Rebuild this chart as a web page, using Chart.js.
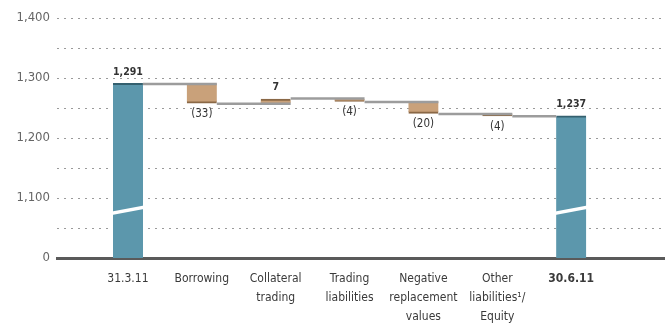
<!DOCTYPE html>
<html>
<head>
<meta charset="utf-8">
<script src="https://cdn.jsdelivr.net/npm/chart.js@4/dist/chart.umd.min.js"></script>
<style>
  html, body { margin: 0; padding: 0; background: #ffffff; }
  #wrap { width: 665px; height: 325px; position: relative; }
</style>
</head>
<body>
<div id="wrap"><canvas id="chart"></canvas></div>
<script>
// Balance sheet bridge, CHF billion (axis broken between 0 and 1,100)
const categories = [
  ['31.3.11'],
  ['Borrowing'],
  ['Collateral', 'trading'],
  ['Trading', 'liabilities'],
  ['Negative', 'replacement', 'values'],
  ['Other', 'liabilities\u00B9/', 'Equity'],
  ['30.6.11']
];
const changes   = [1291, -33, 7, -4, -20, -4, 1237];
const isTotal   = [true, false, false, false, false, false, true];
const yTicks    = [1000, 1100, 1200, 1300, 1400];
const tickText  = ['0', '1,100', '1,200', '1,300', '1,400'];
const AXIS_BASE = 1000;   // the "0" line sits where 1,000 would be
const BREAK_AT  = 1080;   // level of the axis-break slash on the total bars

// floating ranges for the waterfall
const ranges = [];
let running = 0;
changes.forEach((v, i) => {
  if (isTotal[i]) { ranges.push([AXIS_BASE, v]); running = v; }
  else { const s = running; running += v; ranges.push([Math.min(s, running), Math.max(s, running)]); }
});
const endLevels = [];
running = 0;
changes.forEach((v, i) => { running = isTotal[i] ? v : running + v; endLevels.push(running); });

const TEAL = '#5c97ac';
const TEAL_EDGE = '#34606f';
const TAN  = '#c9a17a';
const TAN_EDGE = '#8a6846';
const FONT = "'DejaVu Sans Condensed', 'DejaVu Sans', sans-serif";

const barData = ranges.map((r, i) => ({ x: i + 1, y: r }));

const waterfallDecor = {
  id: 'waterfallDecor',
  afterDatasetsDraw(chart) {
    const { ctx } = chart;
    const meta = chart.getDatasetMeta(0);
    const ys = chart.scales.y;
    ctx.save();
    // connector lines between consecutive bars
    ctx.strokeStyle = '#9c9c9c';
    ctx.lineWidth = 2.5;
    for (let i = 0; i < meta.data.length - 1; i++) {
      const a = meta.data[i], b = meta.data[i + 1];
      const y = ys.getPixelForValue(endLevels[i]) + (changes[i] < 0 || isTotal[i] ? 0.5 : -0.5);
      const xEnd = isTotal[i + 1] ? b.x - b.width / 2 : b.x + b.width / 2;
      ctx.beginPath();
      ctx.moveTo(a.x + a.width / 2, y);
      ctx.lineTo(xEnd, y);
      ctx.stroke();
    }
    // axis-break slash on total bars
    meta.data.forEach((bar, i) => {
      if (!isTotal[i]) return;
      const y = ys.getPixelForValue(BREAK_AT);
      const l = bar.x - bar.width / 2 - 1, r = bar.x + bar.width / 2 + 1;
      ctx.fillStyle = '#ffffff';
      ctx.beginPath();
      ctx.moveTo(l, y + 1.5);
      ctx.lineTo(r, y - 4.5);
      ctx.lineTo(r, y - 1);
      ctx.lineTo(l, y + 5);
      ctx.closePath();
      ctx.fill();
    });
    // value labels
    ctx.fillStyle = '#333333';
    ctx.textAlign = 'center';
    meta.data.forEach((bar, i) => {
      const v = changes[i];
      if (v < 0) {
        ctx.font = 'normal 11.5px ' + FONT;
        ctx.textBaseline = 'top';
        ctx.fillText('(' + Math.abs(v) + ')', bar.x, ys.getPixelForValue(ranges[i][0]) + 5);
      } else {
        ctx.font = 'bold 10.5px ' + FONT;
        ctx.textBaseline = 'bottom';
        ctx.fillText(v.toLocaleString('en-US'), bar.x, ys.getPixelForValue(ranges[i][1]) - 6);
      }
    });
    ctx.restore();
  }
};

new Chart(document.getElementById('chart'), {
  type: 'bar',
  data: {
    datasets: [{
      data: barData,
      backgroundColor: changes.map((v, i) => isTotal[i] ? TEAL : TAN),
      borderColor: changes.map((v, i) => isTotal[i] ? TEAL_EDGE : TAN_EDGE),
      // dark edge on the side where each bar ends
      borderWidth: changes.map((v, i) => (isTotal[i] || v > 0)
        ? { top: 2, bottom: 0, left: 0, right: 0 }
        : { top: 0, bottom: 2, left: 0, right: 0 }),
      borderSkipped: false,
      barThickness: 30
    }]
  },
  options: {
    responsive: true,
    maintainAspectRatio: false,
    animation: false,
    devicePixelRatio: 1,
    layout: { padding: { top: 18, left: 0, right: 0, bottom: 0 } },
    plugins: { legend: { display: false }, tooltip: { enabled: false } },
    scales: {
      x: {
        type: 'linear',
        min: 0.04,
        max: 8.27,
        offset: false,
        afterBuildTicks: (scale) => { scale.ticks = categories.map((_, i) => ({ value: i + 1 })); },
        afterFit: (scale) => { scale.height = 67; },
        grid: { display: false, drawTicks: false },
        border: { display: true, color: '#5a5a5a', width: 3 },
        ticks: {
          autoSkip: false,
          maxRotation: 0,
          padding: 12,
          color: '#3a3a3a',
          font: (c) => ({ family: FONT, size: 12, lineHeight: 1.55,
                          weight: c.tick && c.tick.value === categories.length ? 'bold' : 'normal' }),
          callback: (v) => categories[v - 1] || ''
        }
      },
      y: {
        min: AXIS_BASE,
        max: 1400,
        afterBuildTicks: (scale) => {
          const t = [];
          for (let v = AXIS_BASE; v <= 1400; v += 50) t.push({ value: v });
          scale.ticks = t;
        },
        afterFit: (scale) => { scale.width = 57; },
        grid: {
          drawTicks: false,
          color: (c) => c.tick && c.tick.value === AXIS_BASE ? 'rgba(0,0,0,0)' : '#9a9a9a',
          lineWidth: 1
        },
        border: { display: false, dash: [2, 5] },
        ticks: {
          padding: 7,
          color: '#666666',
          font: { family: FONT, size: 13 },
          callback: (v) => { const k = yTicks.indexOf(v); return k >= 0 ? tickText[k] : ''; }
        }
      }
    }
  },
  plugins: [waterfallDecor]
});
</script>
</body>
</html>
